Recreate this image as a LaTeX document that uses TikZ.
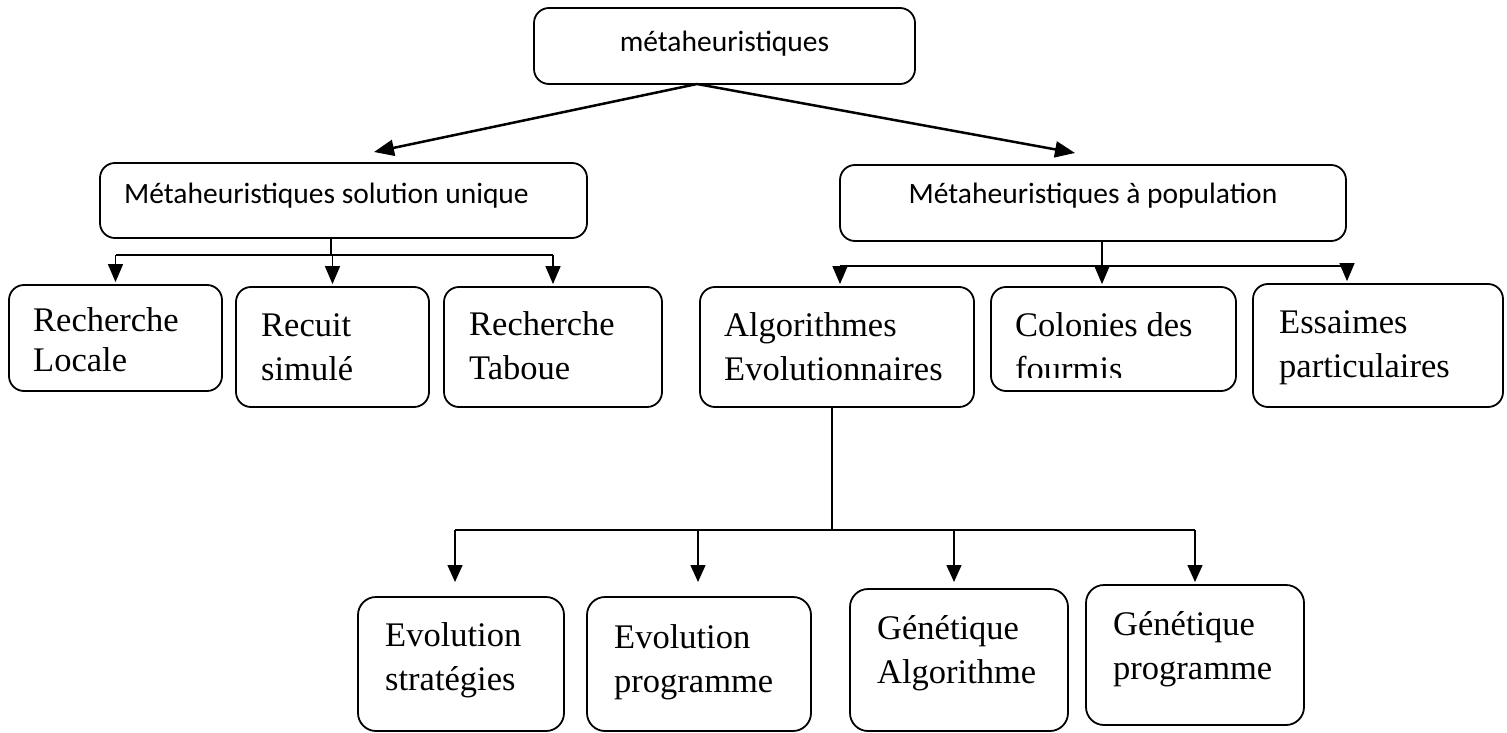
\documentclass[tikz,border=0pt]{standalone}
\usepackage{fontspec}
\setmainfont{Liberation Serif}
\newfontfamily\calibri{Carlito}
\usetikzlibrary{arrows.meta}

\begin{document}
\begin{tikzpicture}[x=1pt, y=-1pt]
        % ================= styles =================
        \tikzset{
            % boîte arrondie, bord noir
            box/.style={draw=black, line width=1.8pt, rounded corners=15pt, inner sep=0pt},
            % texte Calibri (niveaux haut)
            stxt/.style={inner sep=0pt, font=\calibri\fontsize{29.5}{35}\selectfont},
            % texte Times, aligné à gauche, ancré sur la dernière ligne
            rtxt/.style={inner sep=0pt, anchor=base west, align=left, font=\fontsize{34.5}{44}\selectfont},
            % liaisons
            link/.style={line width=2.2pt},
            stem/.style={line width=1.3pt},
            bigarr/.style={line width=2.5pt, -{Triangle[length=20pt, width=16pt]}},
            arr/.style={line width=1.5pt, -{Triangle[length=18pt, width=15pt]}},
            thinlink/.style={line width=1.5pt},
            thinarr/.style={line width=1.5pt, -{Triangle[length=17pt, width=15pt]}}
        }

        \useasboundingbox (0,0) rectangle (1507,733);

        % ================= niveau 0 et niveau 1 =================
        \node[box, minimum width=381pt, minimum height=76pt] (meta) at (724.5,46) {};
        \node[stxt, anchor=base] (meta_t) at (724.5,52) {métaheuristiques};
        \node[box, minimum width=487pt, minimum height=75pt] (solu) at (343.5,200.5) {};
        \node[stxt, anchor=base west] (solu_t) at (124,203) {Métaheuristiques solution unique};
        \node[box, minimum width=506pt, minimum height=76pt] (popu) at (1093,203) {};
        \node[stxt, anchor=base] (popu_t) at (1093,203) {Métaheuristiques à population};

        % deux flèches obliques
        \coordinate (mOut) at (697,84);
        \coordinate (soluIn) at (374,152);
        \coordinate (popuIn) at (1075,153);
        \draw[bigarr] (mOut) -- (soluIn);
        \draw[bigarr] (mOut) -- (popuIn);

        % ================= solution unique =================
        \node[box, minimum width=213pt, minimum height=106pt] (locale) at (115.5,338) {};
        \node[box, minimum width=193pt, minimum height=120pt] (recuit) at (332.5,347) {};
        \node[box, minimum width=218pt, minimum height=120pt] (taboue) at (553,347) {};
        \node[rtxt, font=\fontsize{34.5}{40}\selectfont] (locale_t) at (33,371) {Recherche\\Locale};
        \node[rtxt] (recuit_t) at (261,380) {Recuit\\simulé};
        \node[rtxt] (taboue_t) at (469,379) {Recherche\\Taboue};

        \coordinate (soluJ) at (331,255);
        \draw[stem] (soluJ |- solu.south) -- (soluJ);
        \draw[link] (locale.north |- soluJ) -- (taboue.north |- soluJ);
        \foreach \b in {locale, recuit, taboue}
            \draw[arr] (\b.north |- soluJ) -- ([yshift=2pt]\b.north);

        % ================= à population =================
        \node[box, minimum width=274pt, minimum height=120pt] (algo) at (837,347) {};
        \node[box, minimum width=245pt, minimum height=104pt] (colon) at (1113.5,339) {};
        \node[box, minimum width=250pt, minimum height=123pt] (essaim) at (1378,345.5) {};
        \node[rtxt] (algo_t) at (724,380) {Algorithmes\\Evolutionnaires};
        \begin{scope}
            % le texte coupé en bas
            \clip (991,287) rectangle (1236,377);
            \node[rtxt] (colon_t) at (1015,380) {Colonies des\\fourmis};
        \end{scope}
        \node[rtxt] (essaim_t) at (1279,377) {Essaimes\\particulaires};

        \coordinate (pA) at (840,266);
        \coordinate (pB) at (1102,266);
        \coordinate (pC) at (1347,266);
        \draw[stem] (pB |- popu.south) -- (pB);
        \draw[link] (pA) -- (pC);
        \foreach \p/\b in {pA/algo, pB/colon, pC/essaim}
            \draw[arr] (\p) -- ([yshift=2pt]\p |- \b.north);

        % ================= algorithmes évolutionnaires =================
        \node[box, rounded corners=18pt, minimum width=206pt, minimum height=134pt] (evstrat) at (461,664) {};
        \node[box, rounded corners=18pt, minimum width=224pt, minimum height=134pt] (evprog) at (699,664) {};
        \node[box, rounded corners=18pt, minimum width=218pt, minimum height=142pt] (genalgo) at (959,660) {};
        \node[box, rounded corners=18pt, minimum width=218pt, minimum height=140pt] (genprog) at (1195,655) {};
        \node[rtxt] (evstrat_t) at (385,690) {Evolution\\stratégies};
        \node[rtxt] (evprog_t) at (614,692) {Evolution\\programme};
        \node[rtxt] (genalgo_t) at (877,683) {Génétique\\Algorithme};
        \node[rtxt] (genprog_t) at (1113,679) {Génétique\\programme};

        \coordinate (algoJ) at (832,530);
        \coordinate (qA) at (455,530);
        \coordinate (qB) at (698,530);
        \coordinate (qC) at (954,530);
        \coordinate (qD) at (1195,530);
        \draw[thinlink] (algoJ |- algo.south) -- (algoJ);
        \draw[thinlink] (qA) -- (qD);
        \foreach \q in {qA, qB, qC, qD}
            \draw[thinarr] (\q) -- ++(0,52);

\end{tikzpicture}
\end{document}
